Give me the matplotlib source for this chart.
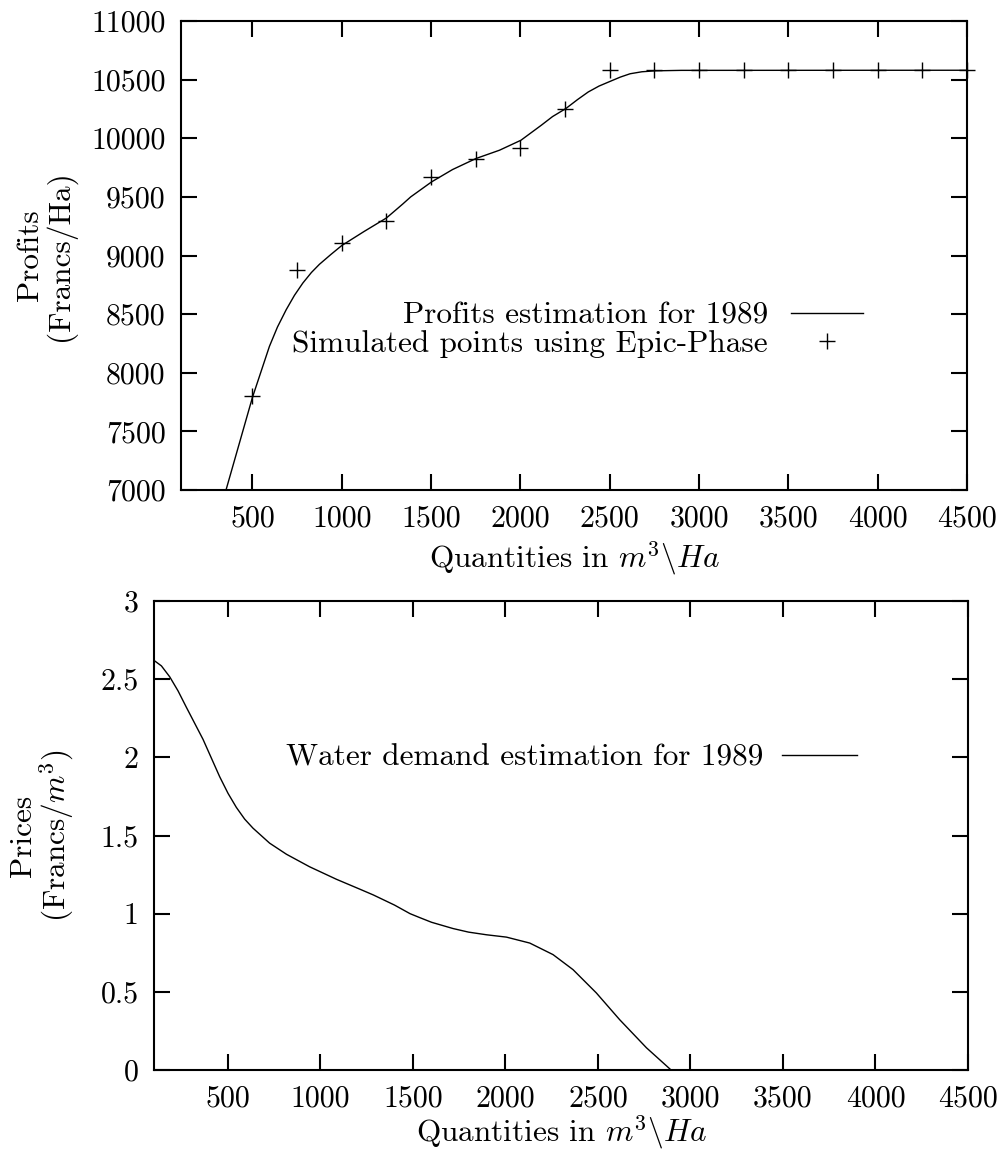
import numpy as np
import matplotlib
matplotlib.use("Agg")
import matplotlib.pyplot as plt

plt.rcParams['font.family'] = ['cmr10', 'DejaVu Serif']
plt.rcParams['mathtext.fontset'] = 'cm'
plt.rcParams['axes.formatter.use_mathtext'] = True
plt.rcParams['font.size'] = 22.5

# profits curve
profit_x = [352, 500, 595, 640, 689, 735, 782, 830, 875, 940, 1000, 1125, 1250, 1300, 1342,
            1386, 1503, 1620, 1751, 1883, 2003, 2117, 2180, 2254, 2320, 2380, 2440, 2502,
            2560, 2614, 2680, 2754, 2900, 4500]
profit_y = [7000, 7790, 8225, 8390, 8538, 8660, 8765, 8855, 8925, 9010, 9085, 9205, 9320, 9385, 9440,
            9500, 9628, 9733, 9827, 9898, 9983, 10111, 10185, 10253, 10330, 10395, 10445, 10485,
            10522, 10550, 10567, 10575, 10579, 10580]

# simulated points
sim_x = [500, 750, 1000, 1250, 1500, 1750, 2000, 2250, 2500,
         2750, 3000, 3250, 3500, 3750, 4000, 4250, 4500]
sim_y = [7800, 8880, 9105, 9290, 9670, 9827, 9915, 10253, 10580,
         10580, 10580, 10580, 10580, 10580, 10580, 10580, 10580]

# water demand curve
demand_x = [100, 140, 185, 230, 275, 365, 455, 500, 545, 590, 635, 725, 816, 941, 1086, 1212,
            1285, 1400, 1484, 1536, 1600, 1716, 1800, 1897, 2005, 2131, 2257, 2365, 2491,
            2617, 2762, 2895]
demand_y = [2.62, 2.585, 2.515, 2.425, 2.32, 2.115, 1.876, 1.77, 1.68, 1.605, 1.547, 1.451, 1.38,
            1.30, 1.22, 1.157, 1.12, 1.055, 1.0, 0.975, 0.945, 0.905, 0.882, 0.865, 0.85, 0.812,
            0.738, 0.642, 0.493, 0.322, 0.142, 0.0]

xticks = [500, 1000, 1500, 2000, 2500, 3000, 3500, 4000, 4500]
xticklabels = ['500', '1000', '1500', '2000', '2500', '3000', '3500', '4000', '4500']
profit_ticks = [7000, 7500, 8000, 8500, 9000, 9500, 10000, 10500, 11000]
profit_labels = ['7000', '7500', '8000', '8500', '9000', '9500', '10000', '10500', '11000']
price_ticks = [0, 0.5, 1, 1.5, 2, 2.5, 3]
price_labels = ['0', '0.5', '1', '1.5', '2', '2.5', '3']

W, H = 1004, 1155
fig = plt.figure(figsize=(W / 100, H / 100), dpi=100)
ax1 = fig.add_axes([181 / W, 1 - 490 / H, 786 / W, 469 / H])
ax2 = fig.add_axes([154 / W, 1 - 1070 / H, 814 / W, 469 / H])

xlab = r'Quantities in $m^3\backslash Ha$'

# top panel
ax1.plot(profit_x, profit_y, color='black', lw=1.0, label='Profits estimation for 1989')
ax1.plot(sim_x, sim_y, ls='none', marker='+', ms=12, mew=1.0, color='black',
         clip_on=False, label='Simulated points using Epic-Phase')
ax1.set_xlim(100, 4500)
ax1.set_ylim(7000, 11000)
ax1.set_yticks(profit_ticks)
ax1.set_yticklabels(profit_labels)
ax1.set_ylabel('Profits\n(Francs/Ha)', linespacing=1.0)
ax1.yaxis.set_label_coords((76 - 181) / 786, 0.5)
ax1.set_xlabel(xlab, labelpad=5)
ax1.legend(loc='center right', bbox_to_anchor=(879 / W, 1 - 330 / H),
           bbox_transform=fig.transFigure, frameon=False, markerfirst=False,
           borderpad=0, handlelength=2.3, handletextpad=0.75, labelspacing=0.0,
           numpoints=1)

# bottom panel
ax2.plot(demand_x, demand_y, color='black', lw=1.0, label='Water demand estimation for 1989')
ax2.set_xlim(100, 4500)
ax2.set_ylim(0, 3)
ax2.set_yticks(price_ticks)
ax2.set_yticklabels(price_labels)
ax2.set_ylabel('Prices\n(Francs/$m^3$)', linespacing=1.0)
ax2.yaxis.set_label_coords((76 - 154) / 814, 0.5)
ax2.set_xlabel(xlab, labelpad=1)
ax2.legend(loc='center right', bbox_to_anchor=(873 / W, 1 - 758 / H),
           bbox_transform=fig.transFigure, frameon=False, markerfirst=False,
           borderpad=0, handlelength=2.4, handletextpad=0.6)

for ax in (ax1, ax2):
    ax.set_xticks(xticks)
    ax.set_xticklabels(xticklabels)
    ax.tick_params(direction='in', length=11.5, width=1.5, top=True, right=True,
                   pad=11, labelsize=21.5)
    for s in ax.spines.values():
        s.set_linewidth(1.5)

fig.savefig('out.png', dpi=100)
